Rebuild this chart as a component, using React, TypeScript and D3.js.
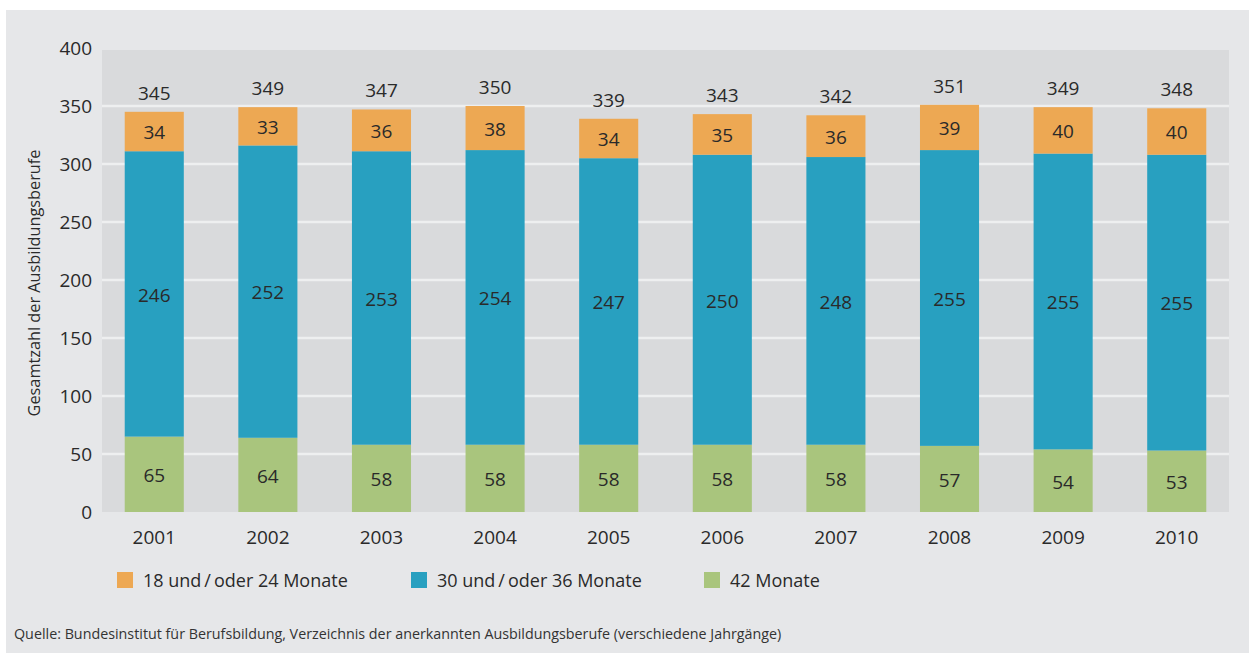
import React from "react";
import * as d3 from "d3";

const years = ["2001", "2002", "2003", "2004", "2005", "2006", "2007", "2008", "2009", "2010"];
const m42 = [65, 64, 58, 58, 58, 58, 58, 57, 54, 53];
const m30_36 = [246, 252, 253, 254, 247, 250, 248, 255, 255, 255];
const m18_24 = [34, 33, 36, 38, 34, 35, 36, 39, 40, 40];
const totals = [345, 349, 347, 350, 339, 343, 342, 351, 349, 348];
const yTicks = [0, 50, 100, 150, 200, 250, 300, 350, 400];

const seriesNames = ["42 Monate", "30 und\u2009/\u2009oder 36 Monate", "18 und\u2009/\u2009oder 24 Monate"];
const colors = ["#A9C57D", "#28A0C0", "#EDA853"];

const FONT = "'Open Sans', sans-serif";
const TXT = "#2a2a2a";

export default function App() {
  const W = 1249, H = 653;
  const left = 102, right = 1229, top = 50, bottom = 512;

  const x = d3.scaleBand<string>().domain(years).range([left, right]).paddingInner(0.48).paddingOuter(0.2);
  const y = d3.scaleLinear().domain([0, 400]).range([bottom, top - 2]);

  const rows = years.map((yr, i) => ({ year: yr, a: m42[i], b: m30_36[i], c: m18_24[i] }));
  const stack = d3.stack<any>().keys(["a", "b", "c"])(rows);

  return (
    <svg width={W} height={H} style={{ position: "absolute", left: 0, top: 0 }}>
      <rect x={6} y={10} width={W - 6} height={H - 10} fill="#E6E7E9" />
      <rect x={left} y={top} width={right - left} height={bottom - top} fill="#D9DADC" />
      {yTicks.filter(t => t > 0 && t < 400).map(t => (
        <line key={t} x1={left} x2={right} y1={y(t)} y2={y(t)} stroke="#EEEFF0" strokeWidth={2.5} />
      ))}
      {yTicks.map(t => (
        <text key={"yt" + t} x={92} y={y(t)} dy="0.36em" textAnchor="end" fontFamily={FONT} fontSize={19} fill={TXT}>{t}</text>
      ))}
      <text transform={`translate(40,283) rotate(-90)`} textAnchor="middle" fontFamily={FONT} fontSize={16.3} fill={TXT}>Gesamtzahl der Ausbildungsberufe</text>
      {stack.map((s, si) => (
        <g key={si}>
          {s.map((d, i) => (
            <g key={i}>
              <rect x={x(years[i])!} width={x.bandwidth()} y={y(d[1])} height={y(d[0]) - y(d[1])} fill={colors[si]} />
              <text x={x(years[i])! + x.bandwidth() / 2} y={(y(d[0]) + y(d[1])) / 2 + 1} dy="0.36em" textAnchor="middle" fontFamily={FONT} fontSize={19} fill={TXT}>{d[1] - d[0]}</text>
            </g>
          ))}
        </g>
      ))}
      {years.map((yr, i) => (
        <text key={"tot" + yr} x={x(yr)! + x.bandwidth() / 2} y={y(m42[i] + m30_36[i] + m18_24[i]) - 12} textAnchor="middle" fontFamily={FONT} fontSize={19} fill={TXT}>{totals[i]}</text>
      ))}
      {years.map(yr => (
        <text key={"x" + yr} x={x(yr)! + x.bandwidth() / 2} y={544} textAnchor="middle" fontFamily={FONT} fontSize={19} fill={TXT}>{yr}</text>
      ))}
      {[2, 1, 0].map((si, k) => {
        const lx = [117, 411, 704][k];
        return (
          <g key={"lg" + si}>
            <rect x={lx} y={572} width={16} height={16} fill={colors[si]} />
            <text x={lx + 26} y={587} fontFamily={FONT} fontSize={18} fill={TXT}>{seriesNames[si]}</text>
          </g>
        );
      })}
      <text x={14} y={639} fontFamily={FONT} fontSize={14.3} fill="#333">Quelle: Bundesinstitut für Berufsbildung, Verzeichnis der anerkannten Ausbildungsberufe (verschiedene Jahrgänge)</text>
    </svg>
  );
}
